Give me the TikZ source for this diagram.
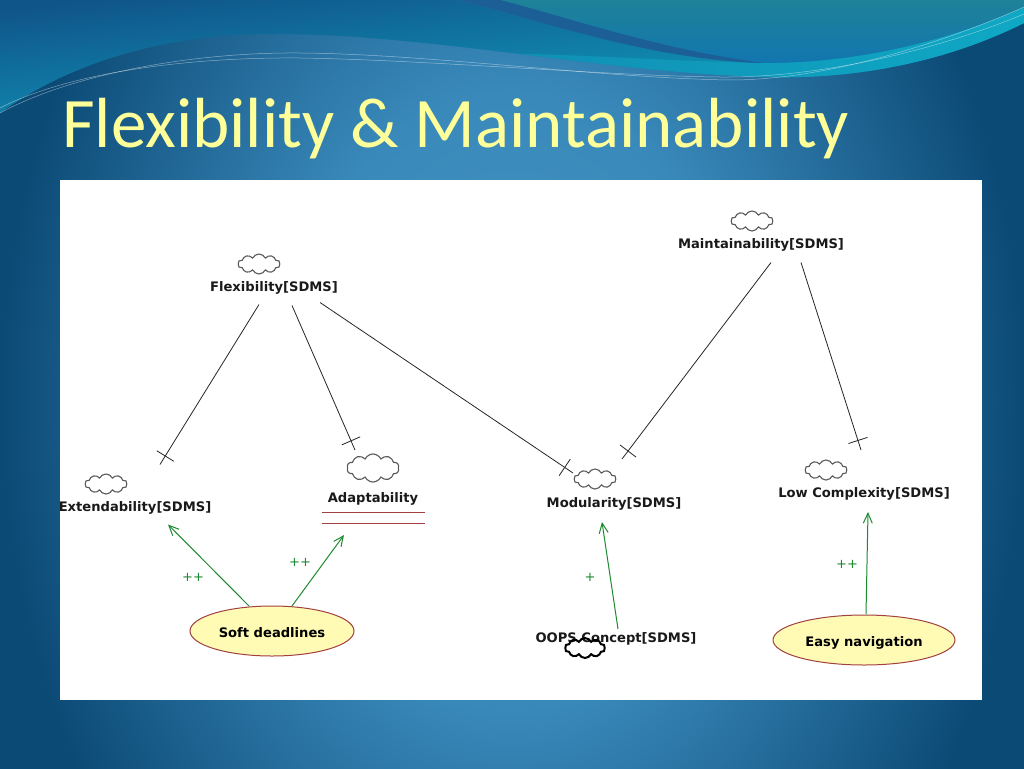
\documentclass[tikz,border=0pt]{standalone}
\usepackage{fontspec}
\setmainfont{Carlito}
\newfontfamily\diagfont{DejaVu Sans}
\usetikzlibrary{shapes.symbols,shapes.geometric,arrows.meta,decorations.markings}
\definecolor{bgcentre}{HTML}{4493C2}
\definecolor{bgmid}{HTML}{3989BA}
\definecolor{bgedge}{HTML}{0C4A76}
\definecolor{linkgreen}{HTML}{1C8A30}
\definecolor{taskfill}{HTML}{FFFBB4}
\definecolor{taskedge}{HTML}{A04040}
\definecolor{titleyellow}{HTML}{FFFF99}
\definecolor{swooshtop}{HTML}{10558A}
\definecolor{swooshmid}{HTML}{1090B6}
\definecolor{swooshlow}{HTML}{0FA8C4}
\definecolor{regiontop}{HTML}{1E8299}
\definecolor{regionlow}{HTML}{1276B0}
\definecolor{darkribbon}{HTML}{1C5F96}
\pgfdeclareradialshading{slidebg}{\pgfpoint{0bp}{0bp}}{color(0bp)=(bgcentre); color(11bp)=(bgmid); color(25bp)=(bgedge); color(50bp)=(bgedge)}
\tikzset{
  softgoal/.style={cloud,cloud puffs=10,cloud puff arc=130,aspect=2.1,draw=black!65,line width=1.1pt,fill=white,inner sep=0pt,minimum width=42pt,minimum height=20pt},
  lab/.style={font=\diagfont\bfseries\fontsize{13.1}{14}\selectfont,text=black!90,inner sep=0pt,text height=11.5pt,text depth=1pt},
  contrib/.style={font=\diagfont\fontsize{13}{14}\selectfont,text=linkgreen,inner sep=0pt},
  task/.style={ellipse,draw=taskedge,line width=1pt,fill=taskfill,inner sep=0pt,text height=13pt,text depth=0pt,font=\diagfont\bfseries\fontsize{13.1}{14}\selectfont},
  breaks/.style={draw=black!85,line width=.8pt,postaction={decorate},decoration={markings,mark=at position -10pt with {\draw[line width=.8pt] (0,-10pt)--(0,10pt);}}},
  helps/.style={draw=linkgreen,line width=1pt,-{Straight Barb[length=10pt,width=9pt]}},
  wavefine/.style={draw=white,opacity=.45,line width=.5pt},
  redrule/.style={draw=taskedge,line width=1.2pt}
}
\begin{document}
\begin{tikzpicture}[x=1pt,y=-1pt]
\useasboundingbox (0,0) rectangle (1024,768);
\path[shading=slidebg] (0,-300) rectangle (1024,1100);
% upper swoosh
\path[top color=swooshtop,middle color=swooshmid,bottom color=swooshlow,shading angle=6]
 (0,0) -- (1024,0) -- (1024,23) .. controls (950,60) and (860,80) .. (764,77)
 .. controls (600,72) and (430,34) .. (274,34)
 .. controls (150,34) and (60,70) .. (0,113) -- cycle;
% bright band, tapering to the left
\path[left color=swooshmid,middle color=swooshlow,right color=swooshlow]
 (516,53.6) .. controls (610,56) and (690,62) .. (764,63)
 .. controls (860,63) and (950,40) .. (1024,7) -- (1024,23)
 .. controls (950,60) and (860,80) .. (764,77)
 .. controls (682,74.5) and (598.5,63.75) .. (516,53.6) -- cycle;
% top right region
\path[top color=regiontop,bottom color=regionlow]
 (457,0) .. controls (540,20) and (650,60) .. (764,63)
 .. controls (860,63) and (950,40) .. (1024,7) -- (1024,0) -- cycle;
\path[fill=darkribbon]
 (457,0) .. controls (540,20) and (650,60) .. (764,63)
 .. controls (660,50) and (560,15) .. (500,0) -- cycle;
% fine lines
\draw[wavefine] (0,113) .. controls (70,75) and (190,52) .. (300,53)
 .. controls (430,54) and (600,78) .. (730,80)
 .. controls (830,80) and (950,40) .. (1024,7);
\draw[wavefine] (0,108) .. controls (70,72) and (190,57) .. (300,58)
 .. controls (430,60) and (610,76) .. (720,77)
 .. controls (830,78) and (950,45) .. (1024,14);
% title
\node[name=title,anchor=base west,inner sep=0pt,text=titleyellow,font=\fontsize{71}{74}\selectfont] at (62,147) {Flexibility \& Maintainability};
% panel
\path[fill=white] (60,180) rectangle (982,700);
% soft goals
\node[softgoal] (cflex) at (259,264) {};
\node[lab] (flex) at (274,286.5) {Flexibility[SDMS]};
\node[softgoal] (cmaint) at (752,221) {};
\node[lab] (maint) at (761,243.5) {Maintainability[SDMS]};
\node[softgoal] (cext) at (106,484) {};
\node[lab] (ext) at (135,506.5) {Extendability[SDMS]};
\node[softgoal,minimum width=52pt,minimum height=28pt] (cadapt) at (373,468) {};
\node[lab] (adapt) at (373,497) {Adaptability};
\node[softgoal] (cmod) at (595,479) {};
\node[lab] (mod) at (614,502) {Modularity[SDMS]};
\node[softgoal] (clow) at (826,470) {};
\node[lab] (low) at (864,492) {Low Complexity[SDMS]};
\node[lab] (oops) at (616,637) {OOPS Concept[SDMS]};
\node[softgoal,line width=2pt,draw=black,fill=none,minimum width=40pt,minimum height=20pt] (coops) at (585,648) {};
\node[task,minimum width=164pt,minimum height=50pt] (soft) at (272,631) {Soft deadlines};
\node[task,minimum width=182pt,minimum height=50pt] (easy) at (864,640) {Easy navigation};
% underline of Adaptability
\draw[redrule] ([shift={(-51,15.5)}]adapt.center) -- ([shift={(52,15.5)}]adapt.center);
\draw[redrule] ([shift={(-51,26.5)}]adapt.center) -- ([shift={(52,26.5)}]adapt.center);
% break links
\draw[breaks] ([shift={(-15,18)}]flex.center) -- ([shift={(25,-42)}]ext.center);
\draw[breaks] ([shift={(18,19)}]flex.center) -- ([shift={(-18,-47)}]adapt.center);
\draw[breaks] ([shift={(46,16)}]flex.center) -- ([shift={(-41,-29)}]mod.center);
\draw[breaks] ([shift={(10,19)}]maint.center) -- ([shift={(8,-43)}]mod.center);
\draw[breaks] ([shift={(40,19)}]maint.center) -- ([shift={(-3,-42)}]low.center);
% help links
\draw[helps] ([shift={(-23,-25)}]soft.center) -- ([shift={(33,18)}]ext.center);
\draw[helps] ([shift={(20,-25)}]soft.center) -- ([shift={(-29,38)}]adapt.center);
\draw[helps] ([shift={(2,-8)}]oops.center) -- ([shift={(-12,20)}]mod.center);
\draw[helps] ([shift={(2,-26)}]easy.center) -- ([shift={(4,20)}]low.center);
% labels
\node[contrib] (l1) at (193,577) {++};
\node[contrib] (l2) at (300,562) {++};
\node[contrib] (l3) at (590,577) {+};
\node[contrib] (l4) at (847,564) {++};
\end{tikzpicture}
\end{document}
